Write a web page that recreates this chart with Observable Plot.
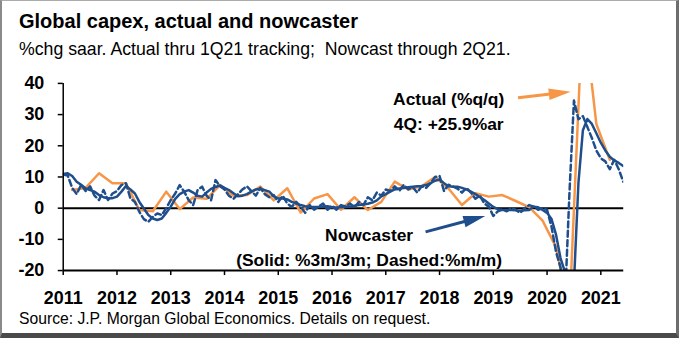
<!DOCTYPE html>
<html><head><meta charset="utf-8">
<script src="https://cdn.jsdelivr.net/npm/d3@7"></script>
<script src="https://cdn.jsdelivr.net/npm/@observablehq/plot@0.6"></script>
<style>
body{margin:0;background:#fff;}
#frame{position:relative;width:679px;height:338px;box-sizing:border-box;border-left:2px solid #8a8a8a;border-top:1px solid #aaa;border-right:3px solid #6d6d6d;border-bottom:5px solid #4a4a4a;font-family:"Liberation Sans",Arial,sans-serif;overflow:hidden;background:#fff;}
#title{position:absolute;left:17px;top:9px;font-size:20px;font-weight:bold;line-height:22px;white-space:nowrap;color:#000;}
#subtitle{position:absolute;left:17px;top:38px;font-size:17.7px;line-height:20px;white-space:nowrap;color:#000;}
#chart{position:absolute;left:-2px;top:59px;}
#source{position:absolute;left:17px;top:309px;font-size:15.7px;line-height:17px;white-space:nowrap;color:#000;}
</style></head>
<body>
<div id="frame">
  <div id="title">Global capex, actual and nowcaster</div>
  <div id="subtitle">%chg saar. Actual thru 1Q21 tracking;&nbsp; Nowcast through 2Q21.</div>
  <div id="chart"></div>
  <div id="source">Source: J.P. Morgan Global Economics. Details on request.</div>
</div>
<script>
// ---- data ----
const yTicks = [-20, -10, 0, 10, 20, 30, 40];
const xTicks = [2011, 2012, 2013, 2014, 2015, 2016, 2017, 2018, 2019, 2020, 2021];

// Actual capex, %q/q saar, quarterly (2011Q1 .. 2021Q1)
const actualQuarters = [
  "2011Q1","2011Q2","2011Q3","2011Q4","2012Q1","2012Q2","2012Q3","2012Q4",
  "2013Q1","2013Q2","2013Q3","2013Q4","2014Q1","2014Q2","2014Q3","2014Q4",
  "2015Q1","2015Q2","2015Q3","2015Q4","2016Q1","2016Q2","2016Q3","2016Q4",
  "2017Q1","2017Q2","2017Q3","2017Q4","2018Q1","2018Q2","2018Q3","2018Q4",
  "2019Q1","2019Q2","2019Q3","2019Q4","2020Q1","2020Q2","2020Q3","2020Q4","2021Q1"];
const actualValues = [
  5.8, 6.5, 11.2, 8, 8, -0.6, -1, 5.3,
  -0.3, 3.4, 3, 7.4, 4, 4.2, 6.9, 2.5,
  6.4, -1.4, 3.1, 4.5, -0.5, 3.5, -0.6, 2,
  8.5, 6, 7, 10, 6.3, 1, 4.8, 3.7,
  4.2, 2.3, 0.3, -4, -12.5, -33, 65, 27, 15.5];

// Nowcaster, monthly from Jan 2011 to Jun 2021
const nowcastStart = 2011;
const nowcast3m3m = [
  11, 11.2, 10.3, 8.5, 7.5, 6.3, 5.8, 5.3, 4.2, 3.5, 3.2, 3.2,
  3.7, 5.3, 7.1, 6, 4.7, 2, -0.1, -2.2, -3.3, -3.8, -3.3, -1.5,
  0.5, 3, 4.5, 5.3, 5.8, 5, 4, 3.7, 5, 6.2, 6.8, 7.3,
  6.5, 5.8, 4.8, 3.8, 4, 4.5, 5.3, 6, 6.2, 5.8, 5.3, 3.8,
  3.1, 3.1, 2.8, 2, 1.5, 1, 0.6, 0.4, 0.4, 0.4, 0.5, 0.6,
  0.3, 0.2, 0.3, 0.4, 0.5, 0.8, 1, 1.2, 1.4, 1.8, 2.5, 3.8,
  4.5, 5.3, 6, 6.3, 6.5, 6.7, 6.9, 7, 7.1, 7.4, 8, 8.8,
  9.2, 8, 7, 6.9, 6.9, 6.5, 6, 5.3, 4.5, 3.6, 2.6, 1.5,
  0.4, -0.3, -0.6, -0.6, -0.6, -0.7, -0.8, -0.7, -0.6, 0.5, 0.3, -0.6,
  -1.5, -3.5, -8.5, -16, -20.5, -28, -24, 8, 25, 28.6, 27, 24,
  21, 18.5, 16.5, 15.3, 14.5, 13.5];
const nowcastMoM = [
  10.8, 10.5, 6.5, 4.5, 7.5, 5.5, 7, 4, 2.6, 5.8, 2.6, 4.7,
  5.5, 7.4, 8, 3.1, 2, -1.2, -3.5, -4.4, -2.8, -1.7, -2.2, 0,
  2.6, 4.7, 7.4, 5.3, 2.6, 1, 5.8, 6.9, 4, 2.5, 9, 7,
  6, 4, 3, 4.5, 6, 7, 5.5, 4, 6.5, 4.5, 3.5, 4.2,
  2, 4, 1.5, 0.4, 2, 0.5, -1.5, 1, -0.5, 0.5, 1.5, -0.5,
  0.8, -0.5, 1, 0.5, 1.5, 0.3, 2, 1, 3.5, 2.5, 5, 4,
  6, 5.5, 7, 5.5, 7.5, 6, 6.8, 5, 7, 6.5, 8, 10,
  10.3, 5.5, 7.5, 7, 6.3, 5, 6.5, 5, 3, 4, 1.5, 0.5,
  -2.5, -1, -0.5, -1, 0, -0.5, -1.5, 0, 1, 0.5, -0.5, 0,
  -0.5, -6, -14, -19, -30, 5, 34.5, 28.5, 29.5, 26, 22.5, 18.5,
  16, 15, 12.5, 15.5, 12.5, 8.5];

// annotations (data coordinates)
const annotTexts = [
  {x: 2018.17, y: 31.6, text: "Actual (%q/q)\n4Q: +25.9%ar"},
  {x: 2016.69, y: -11.9, text: "Nowcaster\n(Solid: %3m/3m; Dashed:%m/m)"}
];
const annotArrows = [
  {x1: 2019.46, y1: 35.4, x2: 2020.44, y2: 37.3, color: "#F79646", angle: -6.5},
  {x1: 2017.74, y1: -7.6, x2: 2018.85, y2: -2.5, color: "#1F4E8C", angle: -15}
];

// ---- build tables ----
const actual = actualQuarters.map((q, k) => {
  const yr = +q.slice(0, 4), qn = +q.slice(5);
  return {date: yr + (qn * 3 - 1) / 12, value: actualValues[k]};
});
const solid = nowcast3m3m.map((v, i) => ({date: nowcastStart + i / 12, value: v}));
const dashed = nowcastMoM.map((v, i) => ({date: nowcastStart + i / 12, value: v}));
const arrowShafts = annotArrows.map(a => ({...a, xe: a.x1 + 0.7 * (a.x2 - a.x1), ye: a.y1 + 0.7 * (a.y2 - a.y1)}));

const headSymbol = {
  draw(ctx, size) {
    const r = Math.sqrt(size / Math.PI);
    ctx.moveTo(0, 0);
    ctx.lineTo(-2.1 * r, -0.55 * r);
    ctx.lineTo(-2.1 * r, 0.55 * r);
    ctx.closePath();
  }
};

const orange = "#F79646", navy = "#1F4E8C";

const chart = Plot.plot({
  width: 679,
  height: 250,
  marginLeft: 63,
  marginRight: 53,
  marginTop: 23,
  marginBottom: 39,
  x: {domain: [2011, 2021.426]},
  y: {domain: [-20, 40]},
  style: {fontFamily: "'Liberation Sans', Arial, sans-serif", fontSize: "18px", fontWeight: "bold", color: "#000", background: "transparent", overflow: "visible"},
  marks: [
    Plot.ruleY([0], {stroke: "#000", strokeWidth: 2}),
    Plot.line(actual, {x: "date", y: "value", stroke: orange, strokeWidth: 2.5, clip: true}),
    Plot.line(dashed, {x: "date", y: "value", stroke: navy, strokeWidth: 2.5, strokeDasharray: "6,3.5", clip: true}),
    Plot.line(solid, {x: "date", y: "value", stroke: navy, strokeWidth: 2.5, clip: true}),
    Plot.ruleY([-20], {stroke: "#000", strokeWidth: 2}),
    Plot.ruleX([2011], {stroke: "#000", strokeWidth: 1.5}),
    Plot.axisY({ticks: yTicks, tickSize: 5, tickPadding: 14, tickFormat: d => String(d), label: null, strokeWidth: 1.5, fontSize: 18, fontWeight: "bold"}),
    Plot.axisX({ticks: xTicks, tickSize: 5, tickPadding: 16, tickFormat: d => String(d), label: null, strokeWidth: 1.5, fontSize: 18, fontWeight: "bold"}),
    Plot.text(annotTexts, {x: "x", y: "y", text: "text", fontSize: 17.5, fontWeight: "bold", lineHeight: 1.45, textAnchor: "middle", fill: "#000"}),
    Plot.link(arrowShafts, {x1: "x1", y1: "y1", x2: "xe", y2: "ye", stroke: "color", strokeWidth: 3}),
    Plot.dot(annotArrows, {x: "x2", y: "y2", fill: "color", stroke: null, symbol: headSymbol, r: 10.5, rotate: "angle"})
  ]
});
document.getElementById("chart").appendChild(chart);
</script>
</body></html>
